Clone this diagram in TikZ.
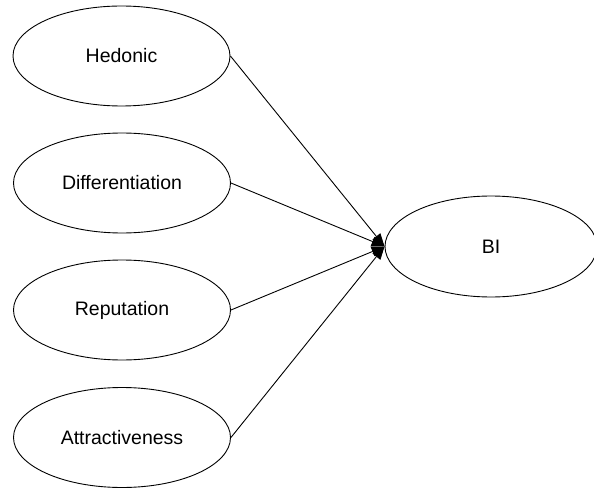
\documentclass[tikz,border=0pt]{standalone}
\usepackage{fontspec}
\setmainfont{Liberation Sans}
\usetikzlibrary{shapes.geometric,arrows.meta}
\begin{document}
\begin{tikzpicture}[x=1pt,y=-1pt,
  latent/.style={draw,ellipse,line width=0.9pt,inner sep=0pt,
    minimum width=217pt,minimum height=100pt,font=\fontsize{19.5}{22}\selectfont},
  conn/.style={line width=0.9pt,-{Triangle[length=13pt,width=10pt]}}]
\useasboundingbox (0,0) rectangle (594,489);
\node[latent] (hed) at (121.5,56) {Hedonic};
\node[latent] (dif) at (122,183) {Differentiation};
\node[latent] (rep) at (122,310) {Reputation};
\node[latent] (att) at (122,437.5) {Attractiveness};
\node[latent,minimum width=212pt,minimum height=101pt] (bi) at (491,246.5) {BI};
\draw[conn] (hed.east) -- (bi.west);
\draw[conn] (dif.east) -- (bi.west);
\draw[conn] (rep.east) -- (bi.west);
\draw[conn] (att.east) -- (bi.west);
\end{tikzpicture}
\end{document}
